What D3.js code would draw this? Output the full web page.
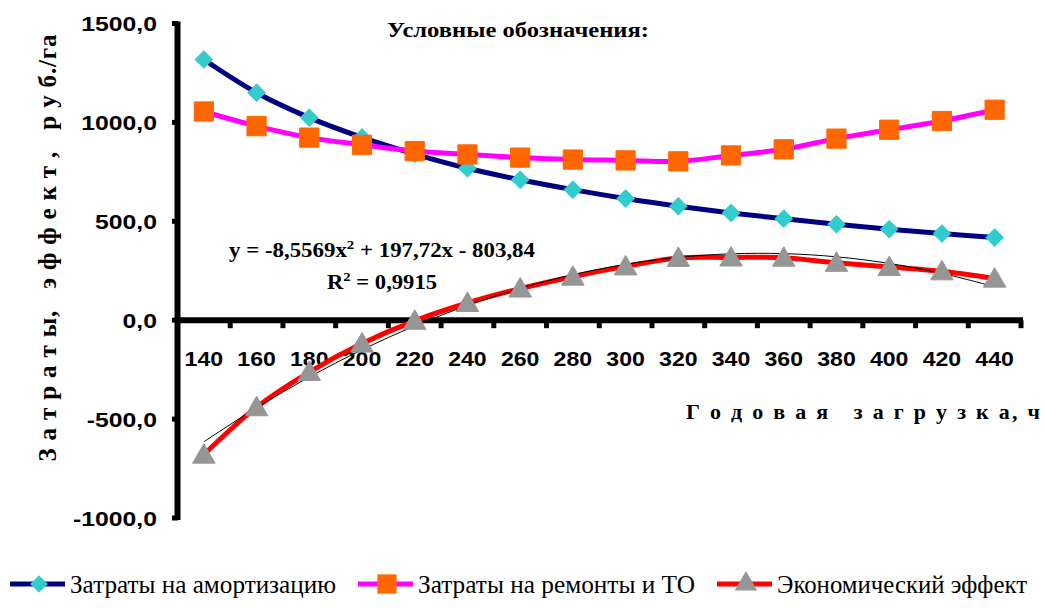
<!DOCTYPE html>
<html lang="ru">
<head>
<meta charset="UTF-8">
<title>Затраты и эффект</title>
<script src="https://cdn.jsdelivr.net/npm/d3@7/dist/d3.min.js"></script>
<style>
  body { margin: 0; background: #fff; }
  text { white-space: pre; }
  .serif { font-family: 'Liberation Serif', 'Times New Roman', serif; }
  .sans { font-family: 'Liberation Sans', Arial, sans-serif; }
</style>
</head>
<body>
<svg width="1045" height="608" id="mainsvg" style="display:block"></svg>
<script>
// годовая загрузка, ч
const categories = [140, 160, 180, 200, 220, 240, 260, 280, 300, 320, 340, 360, 380, 400, 420, 440];
// затраты на амортизацию, руб./га
const amort = [1318, 1150, 1024, 924, 840, 768, 710, 660, 615, 576, 542, 513, 485, 460, 438, 418];
// затраты на ремонты и ТО, руб./га
const repair = [1055, 981, 923, 887, 855, 838, 822, 812, 808, 803, 833, 864, 918, 963, 1007, 1064];
// экономический эффект, руб./га
const effect = [-680, -440, -262, -118, -3, 87, 160, 220, 272, 315, 317, 316, 290, 269, 247, 210];
// полиномиальный тренд (по подписи на графике), x = номер точки
const trendCoef = [-8.5569, 197.72, -803.84];
const yTicks = [-1000, -500, 0, 500, 1000, 1500];
const seriesNames = ["Затраты на амортизацию", "Затраты на ремонты и ТО", "Экономический эффект"];

const svg = d3.select("#mainsvg");
const g = svg.append("g");

const x = d3.scaleBand().domain(categories).range([177.5, 1021]).padding(0);
const y = d3.scaleLinear().domain([-1000, 1500]).range([518, 23.5]);
const cx = d => x(d) + x.bandwidth() / 2;

// растянуть текст по ширине
function stretch(sel, k) {
  sel.each(function() {
    const w = this.getComputedTextLength();
    d3.select(this).attr("textLength", w * k).attr("lengthAdjust", "spacingAndGlyphs");
  });
}

// ось Y
g.append("line")
  .attr("x1", 177.5).attr("x2", 177.5)
  .attr("y1", y(1500) - 2).attr("y2", y(-1000) + 2)
  .attr("stroke", "#000").attr("stroke-width", 6);

g.selectAll(".ytick").data(yTicks).join("line")
  .attr("x1", 172).attr("x2", 178)
  .attr("y1", d => y(d)).attr("y2", d => y(d))
  .attr("stroke", "#000").attr("stroke-width", 5);

g.selectAll(".ylab").data(yTicks).join("text")
  .attr("class", "sans")
  .attr("x", 157)
  .attr("y", d => y(d))
  .attr("dy", "0.36em")
  .attr("text-anchor", "end")
  .attr("font-weight", "bold")
  .attr("font-size", 21)
  .text(d => d3.format(".1f")(d).replace(".", ",").replace("−", "-"))
  .call(stretch, 1.18);

// ось X
g.append("line")
  .attr("x1", 175).attr("x2", 1023)
  .attr("y1", y(0)).attr("y2", y(0))
  .attr("stroke", "#000").attr("stroke-width", 6);

g.selectAll(".xtick").data(categories).join("line")
  .attr("x1", d => x(d) + x.bandwidth()).attr("x2", d => x(d) + x.bandwidth())
  .attr("y1", y(0)).attr("y2", y(0) + 8)
  .attr("stroke", "#000").attr("stroke-width", 5);

g.selectAll(".xlab").data(categories).join("text")
  .attr("class", "sans")
  .attr("x", d => cx(d))
  .attr("y", 366)
  .attr("text-anchor", "middle")
  .attr("font-weight", "bold")
  .attr("font-size", 21)
  .text(d => d)
  .call(stretch, 1.1);

// подписи осей
svg.append("text")
  .attr("class", "serif")
  .attr("transform", "translate(56,248) rotate(-90)")
  .attr("text-anchor", "middle")
  .attr("font-weight", "bold")
  .attr("font-size", 25)
  .attr("textLength", 427)
  .attr("lengthAdjust", "spacing")
  .text("З а т р а т ы,   э ф ф е к т ,   р у б./га");

svg.append("text")
  .attr("class", "serif")
  .attr("x", 1040).attr("y", 419)
  .attr("text-anchor", "end")
  .attr("font-weight", "bold")
  .attr("font-size", 22)
  .attr("textLength", 354)
  .attr("lengthAdjust", "spacing")
  .text("Г о д о в а я   з а г р у з к а, ч");

svg.append("text")
  .attr("class", "serif")
  .attr("x", 518).attr("y", 37)
  .attr("text-anchor", "middle")
  .attr("font-weight", "bold")
  .attr("font-size", 21)
  .attr("textLength", 262)
  .attr("lengthAdjust", "spacingAndGlyphs")
  .text("Условные обозначения:");

// линии рядов
const line = d3.line().x((d, i) => cx(categories[i])).y(d => y(d)).curve(d3.curveCatmullRom);

const series = [
  {name: seriesNames[0], values: amort, stroke: "#000080", fill: "#33CCCC", marker: "diamond"},
  {name: seriesNames[1], values: repair, stroke: "#FF00FF", fill: "#FF6600", marker: "square"},
  {name: seriesNames[2], values: effect, stroke: "#FF0000", fill: "#969696", marker: "triangle"}
];

const symbolType = {diamond: d3.symbolDiamond2, square: d3.symbolSquare, triangle: d3.symbolTriangle};
const symbolSize = {diamond: 200, square: 370, triangle: 220};

series.forEach(s => {
  g.append("path")
    .attr("d", line(s.values))
    .attr("fill", "none")
    .attr("stroke", s.stroke)
    .attr("stroke-width", 5);
});

// тренд
const trendVals = categories.map((c, i) => {
  const t = i + 1;
  return trendCoef[0] * t * t + trendCoef[1] * t + trendCoef[2];
});
g.append("path")
  .attr("d", line(trendVals))
  .attr("fill", "none")
  .attr("stroke", "#000")
  .attr("stroke-width", 1);

series.forEach(s => {
  const sym = d3.symbol().type(symbolType[s.marker]).size(symbolSize[s.marker]);
  g.selectAll(null).data(s.values).join("path")
    .attr("transform", (d, i) => `translate(${cx(categories[i])},${y(d) + (s.marker === "triangle" ? 2 : 0)})`)
    .attr("d", sym)
    .attr("fill", s.fill)
    .attr("stroke", s.fill)
    .attr("stroke-width", 1);
});

// подпись уравнения тренда
const eq = svg.append("text")
  .attr("class", "serif")
  .attr("x", 382).attr("y", 257)
  .attr("text-anchor", "middle")
  .attr("font-weight", "bold")
  .attr("font-size", 20)
  .attr("textLength", 306)
  .attr("lengthAdjust", "spacingAndGlyphs");
eq.append("tspan").text("y = -8,5569x");
eq.append("tspan").attr("dy", -8).attr("font-size", 13).text("2");
eq.append("tspan").attr("dy", 8).text(" + 197,72x - 803,84");

const r2 = svg.append("text")
  .attr("class", "serif")
  .attr("x", 382).attr("y", 289)
  .attr("text-anchor", "middle")
  .attr("font-weight", "bold")
  .attr("font-size", 20)
  .attr("textLength", 110)
  .attr("lengthAdjust", "spacingAndGlyphs");
r2.append("tspan").text("R");
r2.append("tspan").attr("dy", -8).attr("font-size", 13).text("2");
r2.append("tspan").attr("dy", 8).text(" = 0,9915");

// легенда
const legendX = [10, 358, 717];
const legendTextLen = [266, 277, 250];
const legend = svg.selectAll(".leg").data(series).join("g")
  .attr("transform", (d, i) => `translate(${legendX[i]},584)`);

legend.append("line")
  .attr("x1", 0).attr("x2", 55)
  .attr("stroke", d => d.stroke).attr("stroke-width", 5);

legend.append("path")
  .attr("transform", "translate(29,0)")
  .attr("d", d => d3.symbol().type(symbolType[d.marker]).size(symbolSize[d.marker])())
  .attr("fill", d => d.fill);

legend.append("text")
  .attr("class", "serif")
  .attr("x", 60).attr("y", 0).attr("dy", "0.35em")
  .attr("font-size", 25)
  .attr("textLength", (d, i) => legendTextLen[i])
  .attr("lengthAdjust", "spacingAndGlyphs")
  .text(d => d.name);
</script>
</body>
</html>
